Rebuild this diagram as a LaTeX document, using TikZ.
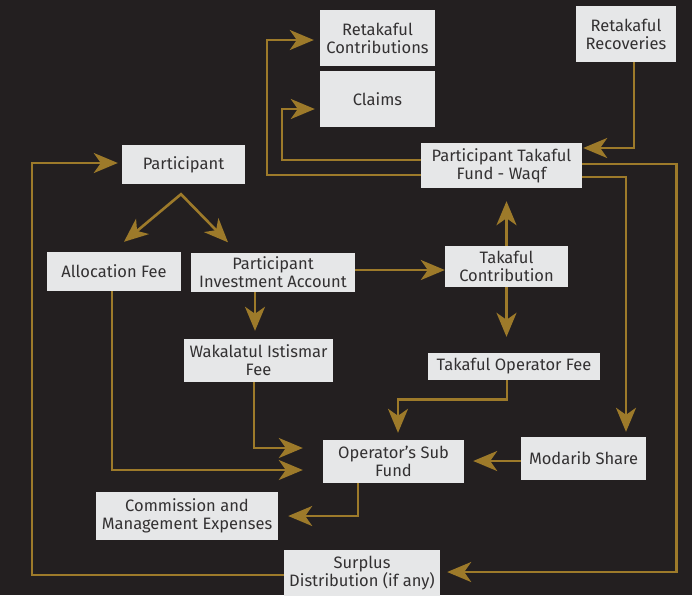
\documentclass[tikz,border=0pt]{standalone}
\usepackage{fontspec}
\setmainfont{Fira Sans}
\usetikzlibrary{arrows.meta}
\definecolor{bgc}{HTML}{231F20}
\definecolor{boxc}{HTML}{E6E7E8}
\definecolor{txtc}{HTML}{333132}
\definecolor{gold}{HTML}{9D7A2A}
\begin{document}
\begin{tikzpicture}[x=1pt,y=-1pt,
  fbox/.style={fill=boxc,text=txtc,inner sep=0pt,align=center,
    font=\fontsize{16.5pt}{18pt}\selectfont},
  arr/.style={draw=gold,line width=2.6pt,-{Stealth[length=24pt,width=20pt,inset=7pt]}},
  biarr/.style={draw=gold,line width=2.6pt,{Stealth[length=24pt,width=20pt,inset=7pt]}-{Stealth[length=24pt,width=20pt,inset=7pt]}}]
\useasboundingbox (0,0) rectangle (692,595);
\fill[bgc] (0,0) rectangle (692,595);
% boxes
\node[fbox,minimum width=115pt,minimum height=56pt] (rc) at (377.5,38) {Retakaful\\Contributions};
\node[fbox,minimum width=115pt,minimum height=56pt] (claims) at (377.5,99) {Claims};
\node[fbox,minimum width=100pt,minimum height=56pt] (rr) at (626,34) {Retakaful\\Recoveries};
\node[fbox,minimum width=161pt,minimum height=45pt] (ptf) at (501.5,165.5) {Participant Takaful\\Fund - Waqf};
\node[fbox,minimum width=123pt,minimum height=39pt] (part) at (183.5,164.5) {Participant};
\node[fbox,minimum width=134pt,minimum height=39pt] (alloc) at (114,271.5) {Allocation Fee};
\node[fbox,minimum width=164pt,minimum height=39pt] (pia) at (273,272.5) {Participant\\Investment Account};
\node[fbox,minimum width=123pt,minimum height=41pt] (tc) at (506.5,266.5) {Takaful\\Contribution};
\node[fbox,minimum width=149pt,minimum height=43pt] (wak) at (258.5,360.5) {Wakalatul Istismar\\Fee};
\node[fbox,minimum width=172pt,minimum height=27pt] (tof) at (514,366.5) {Takaful Operator Fee};
\node[fbox,minimum width=141pt,minimum height=43pt] (osf) at (393.5,461.5) {Operator’s Sub\\Fund};
\node[fbox,minimum width=125pt,minimum height=43pt] (mod) at (583.5,458.5) {Modarib Share};
\node[fbox,minimum width=182pt,minimum height=48pt] (cme) at (187,516) {Commission and\\Management Expenses};
\node[fbox,minimum width=156pt,minimum height=46pt] (sur) at (362,573) {Surplus\\Distribution (if any)};
% connectors
\draw[arr] ([yshift=-9.5pt]ptf.west) -- ++(-154,0) |- ([xshift=-6pt,yshift=-2pt]rc.west);
\draw[arr] ([yshift=5.5pt]ptf.west) -- ++(-139,0) |- ([xshift=-5pt,yshift=-10pt]claims.west);
\draw[arr] ([xshift=8pt]rr.south) |- ([xshift=1pt,yshift=17.5pt]ptf.east);
\draw[arr] ([yshift=1.5pt]ptf.east) -- ++(94,0) |- ([xshift=7pt,yshift=1pt]sur.east);
\draw[arr] ([yshift=-11.5pt]ptf.east) -| ([xshift=42.5pt,yshift=5pt]mod.north);
\draw[arr] (tc.north) -- ([xshift=5pt,yshift=-13pt]ptf.south);
\draw[arr] ([yshift=2.5pt]pia.east) -- ([yshift=-3.5pt]tc.west);
\draw[arr] (tc.south) -- ([xshift=-7.5pt,yshift=16pt]tof.north);
\draw[arr] ([xshift=-7pt]tof.south) -- ++(0,19) -| ([xshift=4.5pt,yshift=7pt]osf.north);
\draw[arr] ([yshift=-2.5pt]mod.west) -- ([xshift=9pt,yshift=0.5pt]osf.east);
\draw[arr] ([xshift=-35.5pt]osf.south) |- ([xshift=10pt]cme.east);
\draw[arr] ([xshift=-4.5pt]wak.south) |- ([xshift=-20pt,yshift=13.5pt]osf.west);
\draw[arr] ([xshift=-2pt]alloc.south) |- ([xshift=-20pt,yshift=-8.5pt]osf.west);
\draw[arr] ([yshift=-2pt]sur.west) -- ++(-252,0) |- ([xshift=-4pt,yshift=1.5pt]part.west);
\coordinate (apex) at ([xshift=-2.5pt,yshift=-10pt]part.south);
\draw[biarr] ([xshift=10pt,yshift=10pt]alloc.north) -- (apex) -- ([xshift=-45pt,yshift=10.5pt]pia.north);
\draw[arr] ([xshift=-18pt]pia.south) -- ([xshift=-3.5pt,yshift=8pt]wak.north);
\end{tikzpicture}
\end{document}
